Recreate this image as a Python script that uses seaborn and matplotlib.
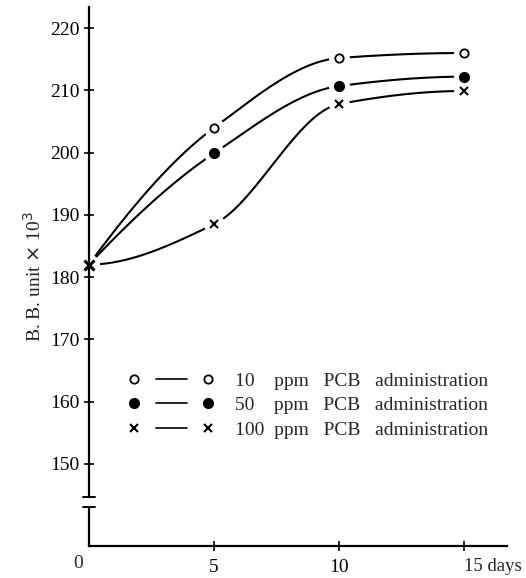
import matplotlib
matplotlib.use("Agg")
import matplotlib.pyplot as plt
import numpy as np
import pandas as pd
import seaborn as sns
from matplotlib.legend_handler import HandlerTuple
from matplotlib.lines import Line2D

days = [0, 5, 10, 15]
ppm10 = [182.0, 204.0, 215.2, 216.0]
ppm50 = [182.0, 199.9, 210.7, 212.2]
ppm100 = [182.0, 188.5, 207.8, 209.9]
labels = [
    "10    ppm   PCB   administration",
    "50    ppm   PCB   administration",
    "100  ppm   PCB   administration",
]
y_ticks = [150, 160, 170, 180, 190, 200, 210, 220]


def pchip(x, y, xs):
    # monotone cubic through the read points, only to draw the smooth curve
    x = np.asarray(x, float)
    y = np.asarray(y, float)
    h = np.diff(x)
    d = np.diff(y) / h
    m = np.zeros_like(y)
    for k in range(1, len(x) - 1):
        if d[k - 1] * d[k] > 0:
            w1 = 2 * h[k] + h[k - 1]
            w2 = h[k] + 2 * h[k - 1]
            m[k] = (w1 + w2) / (w1 / d[k - 1] + w2 / d[k])
    m0 = ((2 * h[0] + h[1]) * d[0] - h[0] * d[1]) / (h[0] + h[1])
    m[0] = m0 if np.sign(m0) == np.sign(d[0]) else 0.0
    mn = ((2 * h[-1] + h[-2]) * d[-1] - h[-1] * d[-2]) / (h[-1] + h[-2])
    m[-1] = mn if np.sign(mn) == np.sign(d[-1]) else 0.0
    idx = np.clip(np.searchsorted(x, xs) - 1, 0, len(x) - 2)
    t = (xs - x[idx]) / h[idx]
    h00 = 2 * t**3 - 3 * t**2 + 1
    h10 = t**3 - 2 * t**2 + t
    h01 = -2 * t**3 + 3 * t**2
    h11 = t**3 - t**2
    return h00 * y[idx] + h10 * h[idx] * m[idx] + h01 * y[idx + 1] + h11 * h[idx] * m[idx + 1]


sns.set_theme(style="ticks")
plt.rcParams["font.family"] = ["Liberation Serif", "DejaVu Serif"]

fig = plt.figure(figsize=(5.26, 5.78), dpi=100)
ax = fig.add_axes([0.169, 0.0554, 0.795, 0.9326])

xs = np.linspace(0, 15, 300)
series = [
    (ppm10, dict(marker="o", mfc="white", mec="black", ms=6, mew=1.3)),
    (ppm50, dict(marker="o", mfc="black", mec="black", ms=7, mew=1.0)),
    (ppm100, dict(marker="x", mfc="black", mec="black", ms=5.5, mew=1.5)),
]
for vals, style in series:
    df = pd.DataFrame({"day": xs, "value": pchip(days, vals, xs)})
    sns.lineplot(data=df, x="day", y="value", color="black", lw=1.5, ax=ax)

# white halo gives the gap between curve and marker
for vals, style in series:
    ax.plot(days, vals, ls="none", marker="o", ms=14, mfc="white", mec="white",
            clip_on=False, zorder=2.2)
for vals, style in series:
    ax.plot(days[1:], vals[1:], ls="none", clip_on=False, zorder=4, **style)
# the three series share the day-0 point; a bold cross marks it
ax.plot(days[:1], ppm100[:1], ls="none", clip_on=False, zorder=4,
        **dict(series[2][1], ms=7, mew=2.2))

ax.set_xlim(0, 16.7)
ax.set_ylim(136.8, 223.4)
ax.set_xticks([5, 10, 15])
ax.set_xticklabels(["5", "10", ""])
ax.set_yticks(y_ticks)
ax.tick_params(direction="inout", length=7, width=1.2, labelsize=14, colors="black")
ax.tick_params(axis="y", pad=3)
ax.tick_params(axis="x", pad=6)
xt = ax.get_xaxis_transform()
ax.text(-0.45, -0.016, "0", ha="center", va="top", fontsize=14, transform=xt)
ax.text(15.0, -0.022, "15 days", ha="left", va="top", fontsize=13.5, transform=xt)
ax.set_xlabel("")
ax.set_ylabel("B. B. unit $\\times$ 10$^3$", fontsize=14, labelpad=4)

sns.despine(ax=ax)
for sp in ("left", "bottom"):
    ax.spines[sp].set_linewidth(1.6)
    ax.spines[sp].set_color("black")
ax.spines["left"].set_bounds(144.6, 223.4)
ax.plot([0, 0], [136.8, 143.1], color="black", lw=1.6, clip_on=False)
for yb in (144.6, 143.1):
    ax.plot([-0.25, 0.25], [yb, yb], color="black", lw=1.4, clip_on=False)

handles = []
for vals, style in series:
    mk = Line2D([], [], ls="none", **style)
    ln = Line2D([], [], color="black", lw=1.2)
    handles.append((mk, ln, mk))
ax.legend(handles, labels, handler_map={tuple: HandlerTuple(ndivide=None, pad=0.3)},
          handlelength=5.4, frameon=False, fontsize=14, labelspacing=0.35,
          loc="upper left", bbox_to_anchor=(0.03, 0.355), handletextpad=0.55)

fig.savefig("out.png", dpi=100)
